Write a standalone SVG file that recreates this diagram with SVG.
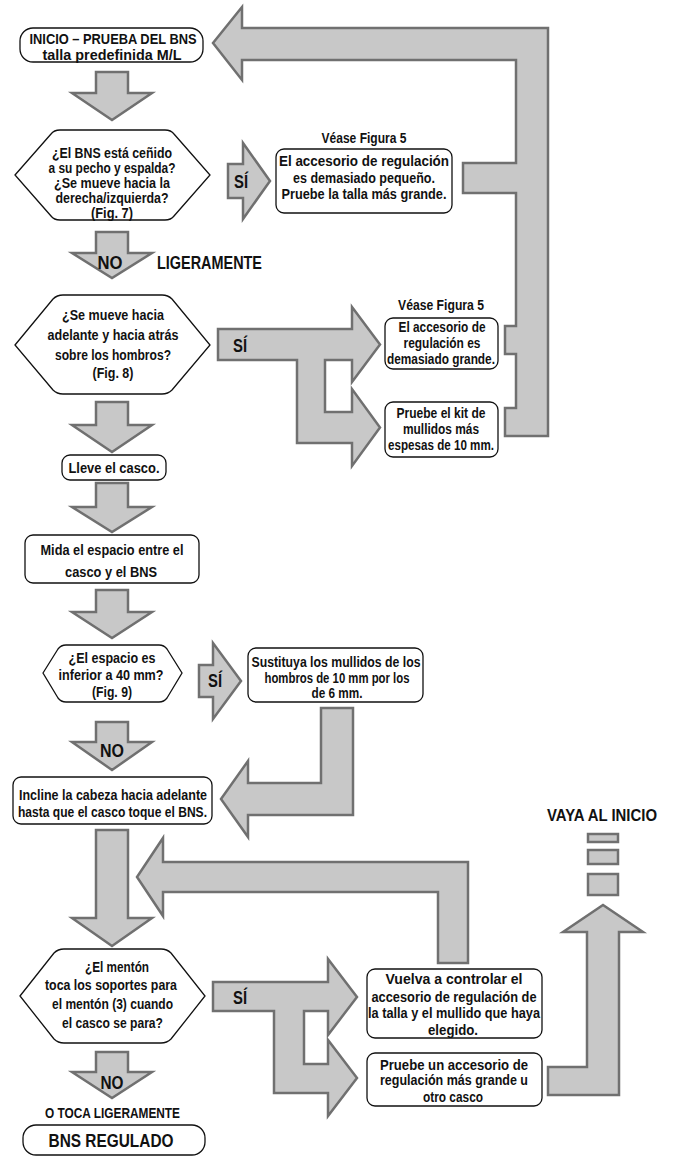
<svg xmlns="http://www.w3.org/2000/svg" width="676" height="1157" viewBox="0 0 676 1157">
  <style>
    text { font-family: "Liberation Sans", Arial, sans-serif; font-weight: bold; fill: #111; text-anchor: middle; }
    .t { font-size: 15px; }
    .s { font-size: 14px; }
    .ttl { font-size: 15.5px; }
    .big { font-size: 18px; }
    .go { font-size: 17px; }
    .lbl { font-size: 19px; }
    .box { fill: #fff; stroke: #111; stroke-width: 1.3; }
    .flow { fill: #c8c8c8; stroke: #707070; stroke-width: 2.5; stroke-linejoin: miter; }
  </style>

  <!-- connectors: block arrows -->
  <g id="connectors">
    <path class="flow" d="M213,43 L242,7 V28 H548 V436 H505 V408 H516 V354 H505 V326 H516 V193 H463 V163 H516 V60 H242 V80 Z"/>
    <path class="flow" d="M96,72 H128 V93 H152 L112,120 L72,93 H96 Z"/>
    <path class="flow" d="M228,164 H243 V143 L270,181 L243,219 V198 H228 Z"/>
    <path class="flow" d="M96,232 H128 V253 H152 L112,278 L72,253 H96 Z"/>
    <path class="flow" d="M218,329 H352 V307 L380,344.5 L352,382 V360 H325 V412 H352 V389 L380,427.5 L352,466 V443 H297 V360 H218 Z"/>
    <path class="flow" d="M96,402 H128 V425 H152 L112,452 L72,425 H96 Z"/>
    <path class="flow" d="M96,483 H128 V507 H152 L112,532 L72,507 H96 Z"/>
    <path class="flow" d="M96,590 H128 V612 H152 L112,638 L72,612 H96 Z"/>
    <path class="flow" d="M199,665 H213 V643 L241,681 L213,719 V697 H199 Z"/>
    <path class="flow" d="M96,722 H128 V742 H152 L112,770 L72,742 H96 Z"/>
    <path class="flow" d="M321,708 H353 V815 H248 V837 L221,799 L248,761 V783 H321 Z"/>
    <path class="flow" d="M96,830 H128 V918 H152 L112,946 L72,918 H96 Z"/>
    <path class="flow" d="M468,862 V963 H438 V892 H163 V916 L137,877 L163,838 V862 Z"/>
    <path class="flow" d="M213,982 H328 V959 L357,997 L328,1035 V1011 H304 V1064 H328 V1040 L357,1078 L328,1116 V1093 H274 V1011 H213 Z"/>
    <path class="flow" d="M96,1052 H128 V1072 H152 L112,1098 L72,1072 H96 Z"/>
    <path class="flow" d="M548,1067 H587 V932 H563 L603,905 L643,932 H619 V1095 H548 Z"/>
    <rect class="flow" x="588" y="834" width="30" height="8"/>
    <rect class="flow" x="588" y="850" width="30" height="14"/>
    <rect class="flow" x="588" y="874" width="30" height="21"/>
    <text class="big" x="241" y="188" textLength="14" lengthAdjust="spacingAndGlyphs">SÍ</text>
    <text class="big" x="110" y="269" textLength="25" lengthAdjust="spacingAndGlyphs">NO</text>
    <text class="big" x="157" y="269" style="text-anchor:start" textLength="105" lengthAdjust="spacingAndGlyphs">LIGERAMENTE</text>
    <text class="big" x="240" y="352" textLength="14" lengthAdjust="spacingAndGlyphs">SÍ</text>
    <text class="big" x="215" y="687" textLength="14" lengthAdjust="spacingAndGlyphs">SÍ</text>
    <text class="big" x="112" y="757" textLength="24" lengthAdjust="spacingAndGlyphs">NO</text>
    <text class="big" x="240" y="1004" textLength="14" lengthAdjust="spacingAndGlyphs">SÍ</text>
    <text class="big" x="112" y="1089" textLength="23" lengthAdjust="spacingAndGlyphs">NO</text>
    <text class="go" x="602" y="821" textLength="110" lengthAdjust="spacingAndGlyphs">VAYA AL INICIO</text>
  </g>

  <g id="start">
    <rect class="box" x="20" y="28" width="183" height="34" rx="13"/>
    <text class="ttl" x="113" y="44" textLength="167" lengthAdjust="spacingAndGlyphs">INICIO – PRUEBA DEL BNS</text>
    <text class="ttl" x="112" y="60" textLength="139" lengthAdjust="spacingAndGlyphs">talla predefinida M/L</text>
  </g>

  <g id="q-cenido">
    <path class="box" d="M15,175 L51,134 Q54,130 60,130 H165 Q171,130 174,134 L210,175 L174,216 Q171,220 165,220 H60 Q54,220 51,216 Z"/>
    <text class="s" x="112" y="158" textLength="120" lengthAdjust="spacingAndGlyphs">¿El BNS está ceñido</text>
    <text class="s" x="112" y="173" textLength="127" lengthAdjust="spacingAndGlyphs">a su pecho y espalda?</text>
    <text class="s" x="112" y="188" textLength="116" lengthAdjust="spacingAndGlyphs">¿Se mueve hacia la</text>
    <text class="s" x="112" y="203" textLength="113" lengthAdjust="spacingAndGlyphs">derecha/izquierda?</text>
    <text class="s" x="112" y="218" textLength="42" lengthAdjust="spacingAndGlyphs">(Fig. 7)</text>
  </g>

  <g id="r-pequeno">
    <text class="t" x="364" y="143" textLength="85" lengthAdjust="spacingAndGlyphs">Véase Figura 5</text>
    <rect class="box" x="276" y="149" width="176" height="64" rx="8"/>
    <text class="t" x="364" y="166" textLength="170" lengthAdjust="spacingAndGlyphs">El accesorio de regulación</text>
    <text class="t" x="364" y="183" textLength="142" lengthAdjust="spacingAndGlyphs">es demasiado pequeño.</text>
    <text class="t" x="364" y="199" textLength="165" lengthAdjust="spacingAndGlyphs">Pruebe la talla más grande.</text>
  </g>

  <g id="q-hombros">
    <path class="box" d="M15,345 L53,299 Q57,295 63,295 H162 Q168,295 172,299 L210,345 L172,390 Q168,394 162,394 H63 Q57,394 53,390 Z"/>
    <text class="t" x="113" y="320" textLength="102" lengthAdjust="spacingAndGlyphs">¿Se mueve hacia</text>
    <text class="t" x="113" y="340" textLength="131" lengthAdjust="spacingAndGlyphs">adelante y hacia atrás</text>
    <text class="t" x="113" y="360" textLength="116" lengthAdjust="spacingAndGlyphs">sobre los hombros?</text>
    <text class="t" x="113" y="378" textLength="41" lengthAdjust="spacingAndGlyphs">(Fig. 8)</text>
  </g>

  <g id="r-grande">
    <text class="t" x="441" y="310" textLength="86" lengthAdjust="spacingAndGlyphs">Véase Figura 5</text>
    <rect class="box" x="385" y="318" width="113" height="51" rx="8"/>
    <text class="t" x="442" y="332" textLength="87" lengthAdjust="spacingAndGlyphs">El accesorio de</text>
    <text class="t" x="442" y="348" textLength="77" lengthAdjust="spacingAndGlyphs">regulación es</text>
    <text class="t" x="441" y="364" textLength="108" lengthAdjust="spacingAndGlyphs">demasiado grande.</text>
  </g>

  <g id="r-kit">
    <rect class="box" x="385" y="402" width="113" height="55" rx="8"/>
    <text class="t" x="441" y="418" textLength="89" lengthAdjust="spacingAndGlyphs">Pruebe el kit de</text>
    <text class="t" x="441" y="434" textLength="76" lengthAdjust="spacingAndGlyphs">mullidos más</text>
    <text class="t" x="441" y="450" textLength="106" lengthAdjust="spacingAndGlyphs">espesas de 10 mm.</text>
  </g>

  <g id="lleve">
    <rect class="box" x="62" y="455" width="104" height="25" rx="8"/>
    <text class="t" x="114" y="473" textLength="91" lengthAdjust="spacingAndGlyphs">Lleve el casco.</text>
  </g>

  <g id="mida">
    <rect class="box" x="25" y="535" width="174" height="48" rx="8"/>
    <text class="t" x="112" y="555" textLength="143" lengthAdjust="spacingAndGlyphs">Mida el espacio entre el</text>
    <text class="t" x="111" y="577" textLength="92" lengthAdjust="spacingAndGlyphs">casco y el BNS</text>
  </g>

  <g id="q-espacio">
    <path class="box" d="M43,673 L58,649 Q61,645 66,645 H159 Q164,645 167,649 L182,673 L167,698 Q164,702 159,702 H66 Q61,702 58,698 Z"/>
    <text class="t" x="112" y="663" textLength="87" lengthAdjust="spacingAndGlyphs">¿El espacio es</text>
    <text class="t" x="111" y="680" textLength="105" lengthAdjust="spacingAndGlyphs">inferior a 40 mm?</text>
    <text class="t" x="112" y="697" textLength="40" lengthAdjust="spacingAndGlyphs">(Fig. 9)</text>
  </g>

  <g id="r-sustituya">
    <rect class="box" x="248" y="648" width="175" height="54" rx="8"/>
    <text class="t" x="336" y="667" textLength="169" lengthAdjust="spacingAndGlyphs">Sustituya los mullidos de los</text>
    <text class="t" x="337" y="683" textLength="145" lengthAdjust="spacingAndGlyphs">hombros de 10 mm por los</text>
    <text class="t" x="337" y="698" textLength="51" lengthAdjust="spacingAndGlyphs">de 6 mm.</text>
  </g>

  <g id="incline">
    <rect class="box" x="13" y="777" width="199" height="47" rx="8"/>
    <text class="t" x="113" y="800" textLength="188" lengthAdjust="spacingAndGlyphs">Incline la cabeza hacia adelante</text>
    <text class="t" x="112.5" y="817" textLength="189" lengthAdjust="spacingAndGlyphs">hasta que el casco toque el BNS.</text>
  </g>

  <g id="q-menton">
    <path class="box" d="M20,996 L54,953 Q58,949 64,949 H161 Q167,949 171,953 L205,996 L171,1039 Q167,1043 161,1043 H64 Q58,1043 54,1039 Z"/>
    <text class="t" x="117" y="972" textLength="64" lengthAdjust="spacingAndGlyphs">¿El mentón</text>
    <text class="t" x="111" y="990" textLength="132" lengthAdjust="spacingAndGlyphs">toca los soportes para</text>
    <text class="t" x="112.5" y="1009" textLength="121" lengthAdjust="spacingAndGlyphs">el mentón (3) cuando</text>
    <text class="t" x="112.5" y="1028" textLength="101" lengthAdjust="spacingAndGlyphs">el casco se para?</text>
  </g>

  <g id="r-vuelva">
    <rect class="box" x="367" y="969" width="175" height="69" rx="8"/>
    <text class="t" x="454" y="984" textLength="137" lengthAdjust="spacingAndGlyphs">Vuelva a controlar el</text>
    <text class="t" x="454" y="1002" textLength="165" lengthAdjust="spacingAndGlyphs">accesorio de regulación de</text>
    <text class="t" x="454" y="1018" textLength="172" lengthAdjust="spacingAndGlyphs">la talla y el mullido que haya</text>
    <text class="t" x="453" y="1035" textLength="50" lengthAdjust="spacingAndGlyphs">elegido.</text>
  </g>

  <g id="r-otro">
    <rect class="box" x="367" y="1053" width="175" height="53" rx="8"/>
    <text class="t" x="454" y="1070" textLength="148" lengthAdjust="spacingAndGlyphs">Pruebe un accesorio de</text>
    <text class="t" x="454" y="1085" textLength="148" lengthAdjust="spacingAndGlyphs">regulación más grande u</text>
    <text class="t" x="453" y="1102" textLength="60" lengthAdjust="spacingAndGlyphs">otro casco</text>
  </g>

  <g id="fin">
    <text class="t" x="112.5" y="1118" textLength="135" lengthAdjust="spacingAndGlyphs">O TOCA LIGERAMENTE</text>
    <rect class="box" x="23" y="1125" width="182" height="30" rx="13"/>
    <text class="lbl" x="111" y="1147" textLength="125" lengthAdjust="spacingAndGlyphs">BNS REGULADO</text>
  </g>
</svg>
